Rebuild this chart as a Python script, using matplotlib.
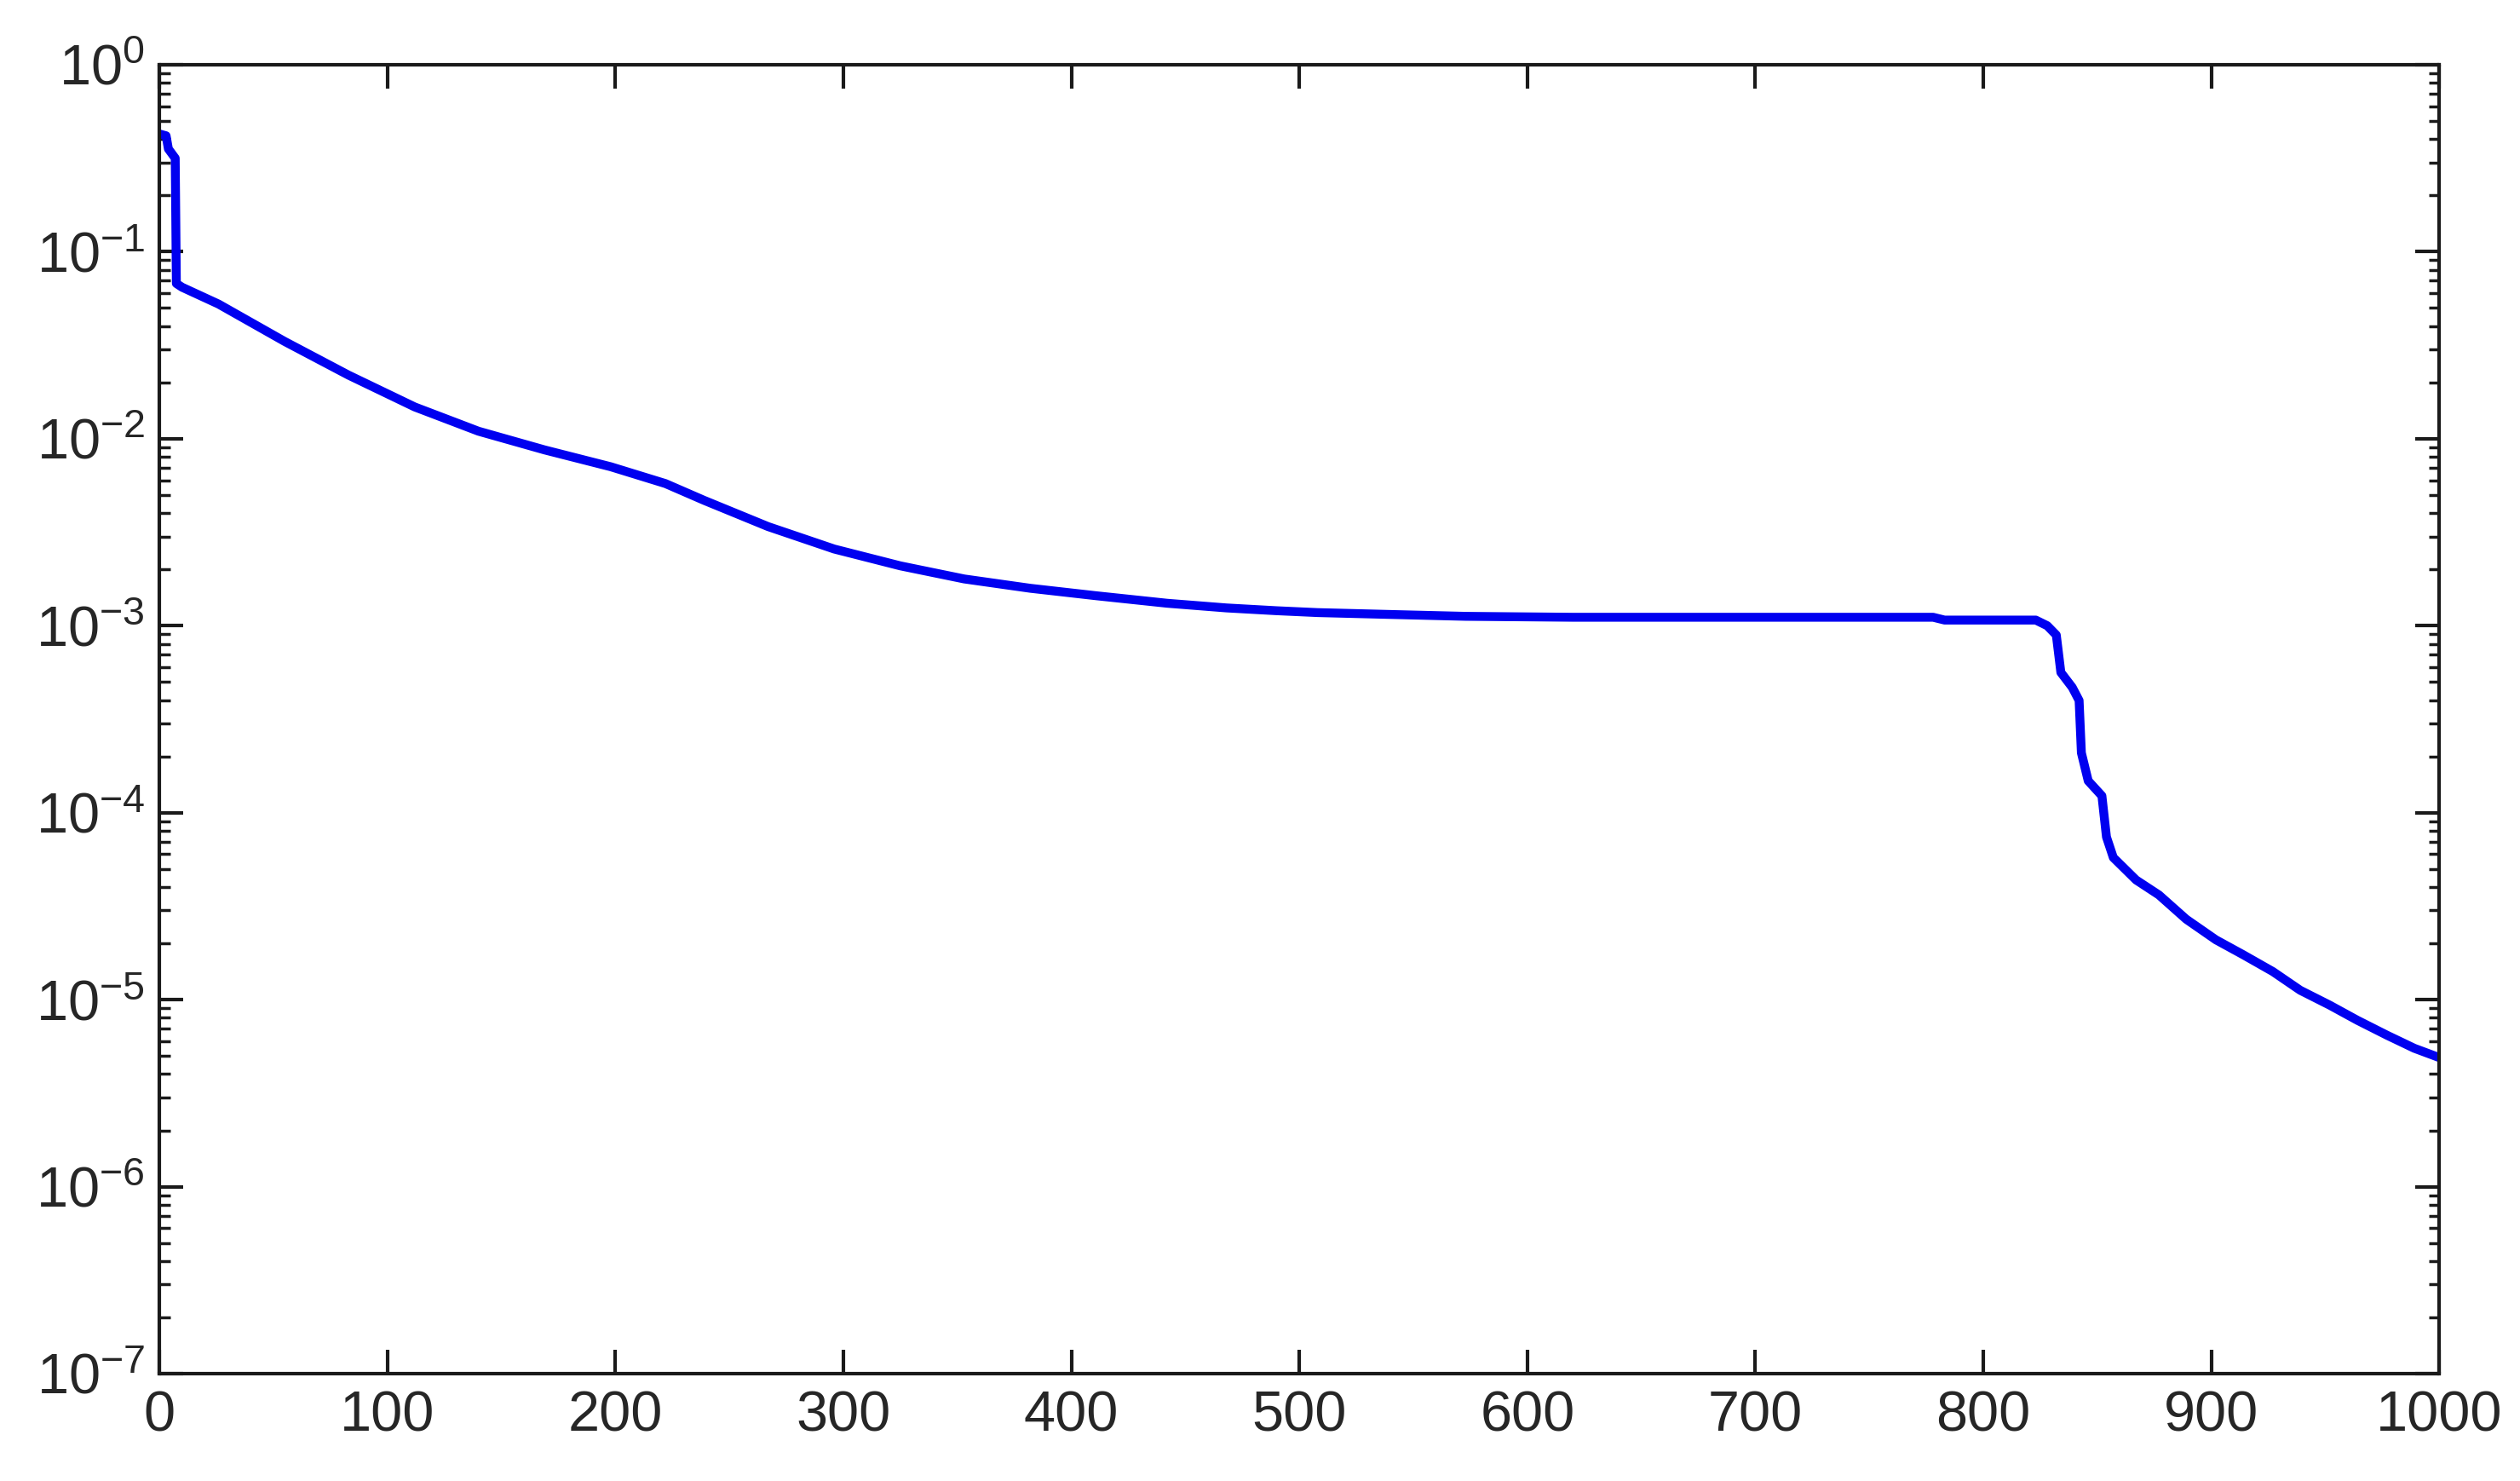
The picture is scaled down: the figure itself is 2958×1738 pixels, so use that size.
import numpy as np
import matplotlib
matplotlib.use("Agg")
import matplotlib.pyplot as plt
from matplotlib.ticker import LogLocator, FixedLocator

plt.rcParams["font.family"] = ["Liberation Sans", "DejaVu Sans"]
plt.rcParams["mathtext.default"] = "regular"

# residual curve: iteration vs log10(error)
iterations = [0, 3, 4, 7, 7.5, 10, 26, 55, 83, 112, 140, 169, 198, 222, 239,
              267, 296, 325, 353, 382, 411, 442, 468, 490, 508, 540, 573, 620,
              700, 778, 783, 823, 828, 832, 834, 839, 842, 843, 846, 852, 854,
              857, 867, 877, 889, 902, 914, 927, 939, 952, 964, 977, 989, 1000]
log_error = [-0.37, -0.38, -0.45, -0.50, -1.17, -1.19, -1.28, -1.48, -1.66,
             -1.83, -1.96, -2.06, -2.15, -2.24, -2.33, -2.47, -2.59, -2.68,
             -2.75, -2.80, -2.84, -2.88, -2.905, -2.92, -2.93, -2.94, -2.95,
             -2.955, -2.955, -2.955, -2.97, -2.97, -3.00, -3.05, -3.25, -3.33,
             -3.40, -3.68, -3.83, -3.91, -4.13, -4.24, -4.36, -4.44, -4.57,
             -4.68, -4.76, -4.85, -4.95, -5.03, -5.11, -5.19, -5.26, -5.31]

x_ticks = list(range(0, 1001, 100))
y_limits = (1e-7, 1e0)

error = 10.0 ** np.array(log_error)

fig = plt.figure(figsize=(29.58, 17.38), dpi=100)
ax = fig.add_axes([0.0632, 0.0725, 0.9048, 0.8838])

ax.plot(iterations, error, color="#0000f0", linewidth=7.5)

ax.set_yscale("log")
ax.set_xlim(0, 1000)
ax.set_ylim(*y_limits)
ax.xaxis.set_major_locator(FixedLocator(x_ticks))
ax.yaxis.set_major_locator(LogLocator(base=10, numticks=10))
ax.yaxis.set_minor_locator(LogLocator(base=10, subs=np.arange(2, 10), numticks=20))
ax.yaxis.set_minor_formatter(plt.NullFormatter())

for s in ax.spines.values():
    s.set_linewidth(3)
    s.set_color("#1a1a1a")

ax.tick_params(axis="both", which="major", direction="in", length=20, width=3,
               top=True, right=True, color="#1a1a1a", labelsize=48,
               labelcolor="#262626")
ax.tick_params(axis="x", which="major", pad=14)
ax.tick_params(axis="y", which="major", pad=12)
ax.tick_params(axis="y", which="minor", direction="in", length=9, width=2.5,
               left=True, right=True, color="#1a1a1a")

fig.savefig("out.png", dpi=100, facecolor="white")
